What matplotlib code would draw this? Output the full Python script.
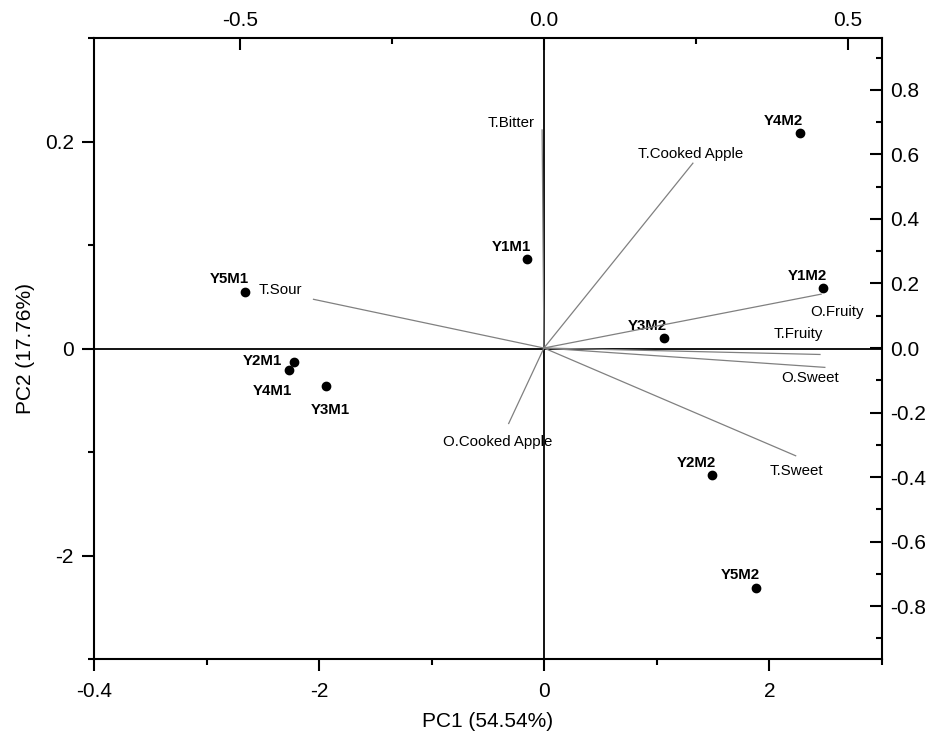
import matplotlib
matplotlib.use("Agg")
import matplotlib.pyplot as plt

plt.rcParams["font.family"] = ["Liberation Sans", "DejaVu Sans"]

# sample scores (bottom / left axes)
samples = ["Y5M1", "Y2M1", "Y4M1", "Y3M1", "Y1M1", "Y4M2", "Y1M2", "Y3M2", "Y2M2", "Y5M2"]
pc1 = [-2.66, -2.22, -2.27, -1.94, -0.15, 2.27, 2.48, 1.06, 1.49, 1.88]
pc2 = [0.55, -0.135, -0.21, -0.36, 0.86, 2.08, 0.585, 0.10, -1.22, -2.31]

# attribute loadings (top / right axes)
attributes = ["T.Bitter", "T.Cooked Apple", "O.Fruity", "T.Fruity", "O.Sweet",
              "T.Sweet", "O.Cooked Apple", "T.Sour"]
load1 = [-0.003, 0.245, 0.456, 0.454, 0.462, 0.414, -0.058, -0.379]
load2 = [0.676, 0.573, 0.167, -0.020, -0.060, -0.334, -0.234, 0.151]

bottom_ticks = [-4, -2, 0, 2]
bottom_labels = ["-0.4", "-2", "0", "2"]
left_ticks = [-2, 0, 2]
left_labels = ["-2", "0", "0.2"]
top_ticks = [-0.5, 0.0, 0.5]
right_ticks = [-0.8, -0.6, -0.4, -0.2, 0.0, 0.2, 0.4, 0.6, 0.8]

# label offsets in points
sample_offsets = {"Y2M1": (-22.8, 0.9), "Y4M1": (-12, -14.9), "Y3M1": (2.9, -17.8)}
attr_offsets = [(-22, 5), (-1.4, 6.5), (11.3, -12.7), (-15.8, 14.6), (-10.3, -7.5),
                (0.9, -11), (-7.9, -13.2), (-24, 6.7)]

W, H = 929, 733
fig = plt.figure(figsize=(W / 100, H / 100), dpi=100)
pos = [94 / W, 1 - 659 / H, (882 - 94) / W, (659 - 38) / H]
ax = fig.add_axes(pos)
ax2 = fig.add_axes(pos, frameon=False)

tick_font = 15
for s in ax.spines.values():
    s.set_linewidth(1.5)

# scores axes
ax.set_xlim(-4, 3)
ax.set_ylim(-3, 3)
ax.set_xticks(bottom_ticks)
ax.set_xticklabels(bottom_labels)
ax.set_xticks([-3, -1, 1, 3], minor=True)
ax.set_yticks(left_ticks)
ax.set_yticklabels(left_labels)
ax.set_yticks([-3, -1, 1, 3], minor=True)
ax.tick_params(which="major", direction="out", length=8.5, width=1.5,
               labelsize=tick_font, pad=6)
ax.tick_params(axis="x", which="major", pad=8)
ax.tick_params(which="minor", direction="out", length=4.3, width=1.5)
ax.set_xlabel("PC1 (54.54%)", fontsize=tick_font, labelpad=8)
ax.set_ylabel("PC2 (17.76%)", fontsize=tick_font, labelpad=7)

ax.axhline(0, color="black", lw=1.3, zorder=2)
ax.axvline(0, color="black", lw=1.3, zorder=2)

ax.plot(pc1, pc2, "o", color="black", ms=6, zorder=5)
for name, x, y in zip(samples, pc1, pc2):
    dx, dy = sample_offsets.get(name, (-11.5, 8.8))
    ax.annotate(name, (x, y), xytext=(dx, dy), textcoords="offset points",
                ha="center", va="center", fontsize=10.8, fontweight="bold", zorder=6)

# loadings axes
ax2.set_xlim(-0.740, 0.556)
ax2.set_ylim(-0.964, 0.961)
ax2.xaxis.tick_top()
ax2.yaxis.tick_right()
ax2.set_xticks(top_ticks)
ax2.set_xticklabels([f"{t:.1f}" for t in top_ticks])
ax2.set_xticks([-0.25, 0.25], minor=True)
ax2.set_yticks(right_ticks)
ax2.set_yticklabels([f"{t:.1f}" for t in right_ticks])
ax2.set_yticks([-0.9, -0.7, -0.5, -0.3, -0.1, 0.1, 0.3, 0.5, 0.7, 0.9], minor=True)
ax2.tick_params(which="major", direction="in", length=8.5, width=1.5,
                labelsize=tick_font, pad=6)
ax2.tick_params(which="minor", direction="in", length=4.3, width=1.5)

for name, lx, ly, off in zip(attributes, load1, load2, attr_offsets):
    ax2.plot([0, lx], [0, ly], color="#808080", lw=0.9, zorder=3)
    ax2.annotate(name, (lx, ly), xytext=off, textcoords="offset points",
                 ha="center", va="center", fontsize=10.8)

fig.savefig("out.png", dpi=100)
